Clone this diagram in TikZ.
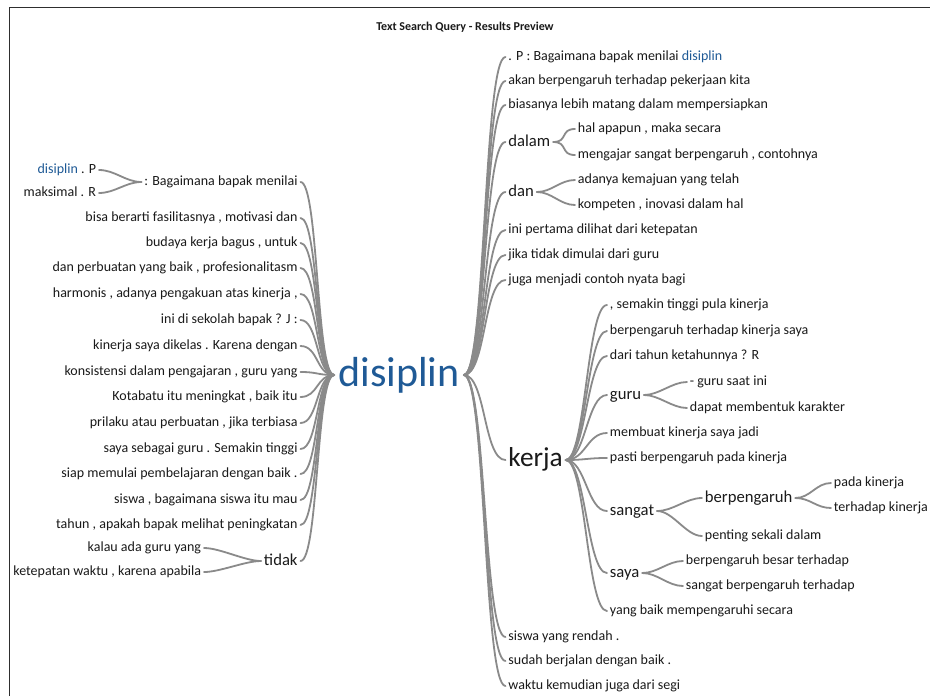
\documentclass[tikz,border=0pt]{standalone}
\usepackage{fontspec}
\setmainfont{Carlito}
\definecolor{ink}{HTML}{1A1A1A}
\definecolor{dblue}{HTML}{1F5A96}
\definecolor{wirecol}{HTML}{8A8A8A}
\definecolor{framecol}{HTML}{2E2E2E}
% curved word-tree branches: rightwards and leftwards
\newcommand\wtr[3]{\draw[branch] (#1) .. controls +(#3,0) and +(-#3,0) .. (#2);}
\newcommand\wtl[3]{\draw[branch] (#1) .. controls +(-#3,0) and +(#3,0) .. (#2);}
\begin{document}
\begin{tikzpicture}[x=0.75pt,y=-0.75pt,
  leaf/.style={text=ink, font=\fontsize{10.5}{12}\selectfont, inner xsep=2pt, inner ysep=0pt, text height=7.5pt, text depth=2.2pt},
  mid/.style={leaf, font=\fontsize{12.5}{14}\selectfont, text height=9pt, text depth=2.6pt},
  lf/.style={leaf, anchor=east},
  rt/.style={leaf, anchor=west},
  lfm/.style={mid, anchor=east},
  rtm/.style={mid, anchor=west},
  branch/.style={draw=wirecol, line width=1.35pt, line cap=round}]
\useasboundingbox (0,0) rectangle (930,696);
\fill[white] (0,0) rectangle (930,696);
\draw[framecol, line width=1.2pt] (9.5,696) -- (9.5,7.5) -- (930,7.5);

\node[text=ink, font=\fontsize{9}{10}\selectfont\bfseries] (title) at (465,27) {Text Search Query - Results Preview};

% root
\node[text=dblue, font=\fontsize{31.5}{34}\selectfont, inner xsep=3pt, inner ysep=0pt] (dis) at (399,375) {disiplin};

% ---- left branches ----
\node[lf] (L1) at (300.5,182) {: Bagaimana bapak menilai};
\node[lf] (L1a) at (99,170) {{\color{dblue}disiplin} . P};
\node[lf] (L1b) at (99,193) {maksimal . R};
\node[lf] (L2) at (300.5,218) {bisa berarti fasilitasnya , motivasi dan};
\node[lf] (L3) at (300.5,243) {budaya kerja bagus , untuk};
\node[lf] (L4) at (300.5,268) {dan perbuatan yang baik , profesionalitasm};
\node[lf] (L5) at (300.5,294) {harmonis , adanya pengakuan atas kinerja ,};
\node[lf] (L6) at (300.5,320) {ini di sekolah bapak ? J :};
\node[lf] (L7) at (300.5,346) {kinerja saya dikelas . Karena dengan};
\node[lf] (L8) at (300.5,372) {konsistensi dalam pengajaran , guru yang};
\node[lf] (L9) at (300.5,397) {Kotabatu itu meningkat , baik itu};
\node[lf] (L10) at (300.5,423) {prilaku atau perbuatan , jika terbiasa};
\node[lf] (L11) at (300.5,449) {saya sebagai guru . Semakin tinggi};
\node[lf] (L12) at (300.5,474) {siap memulai pembelajaran dengan baik .};
\node[lf] (L13) at (300.5,500) {siswa , bagaimana siswa itu mau};
\node[lf] (L14) at (300.5,525) {tahun , apakah bapak melihat peningkatan};
\node[lfm] (L15) at (300.5,561) {tidak};
\node[lf] (L15a) at (204,548) {kalau ada guru yang};
\node[lf] (L15b) at (204,572) {ketepatan waktu , karena apabila};

\foreach \n in {L1,L2,L3,L4,L5,L6,L7,L8,L9,L10,L11,L12,L13,L14,L15}{\wtl{dis.west}{\n.east}{18}}
\wtl{L1.west}{L1a.east}{16}
\wtl{L1.west}{L1b.east}{16}
\wtl{L15.west}{L15a.east}{16}
\wtl{L15.west}{L15b.east}{16}

% ---- right branches ----
\node[rt] (R1) at (505.5,57) {. P : Bagaimana bapak menilai {\color{dblue}disiplin}};
\node[rt] (R2) at (505.5,81) {akan berpengaruh terhadap pekerjaan kita};
\node[rt] (R3) at (505.5,105) {biasanya lebih matang dalam mempersiapkan};
\node[rtm] (R4) at (505.5,142) {dalam};
\node[rt] (R4a) at (575,129) {hal apapun , maka secara};
\node[rt] (R4b) at (575,155) {mengajar sangat berpengaruh , contohnya};
\node[rtm] (R5) at (505.5,192) {dan};
\node[rt] (R5a) at (575,180) {adanya kemajuan yang telah};
\node[rt] (R5b) at (575,205) {kompeten , inovasi dalam hal};
\node[rt] (R6) at (505.5,230) {ini pertama dilihat dari ketepatan};
\node[rt] (R7) at (505.5,255) {jika tidak dimulai dari guru};
\node[rt] (R8) at (505.5,280) {juga menjadi contoh nyata bagi};
\node[text=ink, font=\fontsize{20.5}{22}\selectfont, inner xsep=2pt, inner ysep=0pt, anchor=west, text height=14pt, text depth=4pt] (R9) at (505.5,460) {kerja};
\node[rt] (R10) at (505.5,637) {siswa yang rendah .};
\node[rt] (R11) at (505.5,661) {sudah berjalan dengan baik .};
\node[rt] (R12) at (505.5,686) {waktu kemudian juga dari segi};

\foreach \n in {R1,R2,R3,R4,R5,R6,R7,R8,R9,R10,R11,R12}{\wtr{dis.east}{\n.west}{22}}
\wtr{R4.east}{R4a.west}{15}
\wtr{R4.east}{R4b.west}{15}
\wtr{R5.east}{R5a.west}{15}
\wtr{R5.east}{R5b.west}{15}

% ---- kerja sub-tree ----
\node[rt] (K1) at (607,305) {, semakin tinggi pula kinerja};
\node[rt] (K2) at (607,331) {berpengaruh terhadap kinerja saya};
\node[rt] (K3) at (607,356) {dari tahun ketahunnya ? R};
\node[rtm] (K4) at (607,395) {guru};
\node[rt] (K4a) at (687,382) {- guru saat ini};
\node[rt] (K4b) at (687,408) {dapat membentuk karakter};
\node[rt] (K5) at (607,433) {membuat kinerja saya jadi};
\node[rt] (K6) at (607,458) {pasti berpengaruh pada kinerja};
\node[rtm] (K7) at (607,511) {sangat};
\node[rtm] (K7a) at (702,498) {berpengaruh};
\node[rt] (K7a1) at (831,483) {pada kinerja};
\node[rt] (K7a2) at (831,508) {terhadap kinerja};
\node[rt] (K7b) at (702,536) {penting sekali dalam};
\node[rtm] (K8) at (607,573) {saya};
\node[rt] (K8a) at (683,561) {berpengaruh besar terhadap};
\node[rt] (K8b) at (683,586) {sangat berpengaruh terhadap};
\node[rt] (K9) at (607,611) {yang baik mempengaruhi secara};

\foreach \n in {K1,K2,K3,K4,K5,K6,K7,K8,K9}{\wtr{R9.east}{\n.west}{20}}
\wtr{K4.east}{K4a.west}{15}
\wtr{K4.east}{K4b.west}{15}
\wtr{K7.east}{K7a.west}{16}
\wtr{K7.east}{K7b.west}{16}
\wtr{K7a.east}{K7a1.west}{15}
\wtr{K7a.east}{K7a2.west}{15}
\wtr{K8.east}{K8a.west}{15}
\wtr{K8.east}{K8b.west}{15}
\end{tikzpicture}
\end{document}
